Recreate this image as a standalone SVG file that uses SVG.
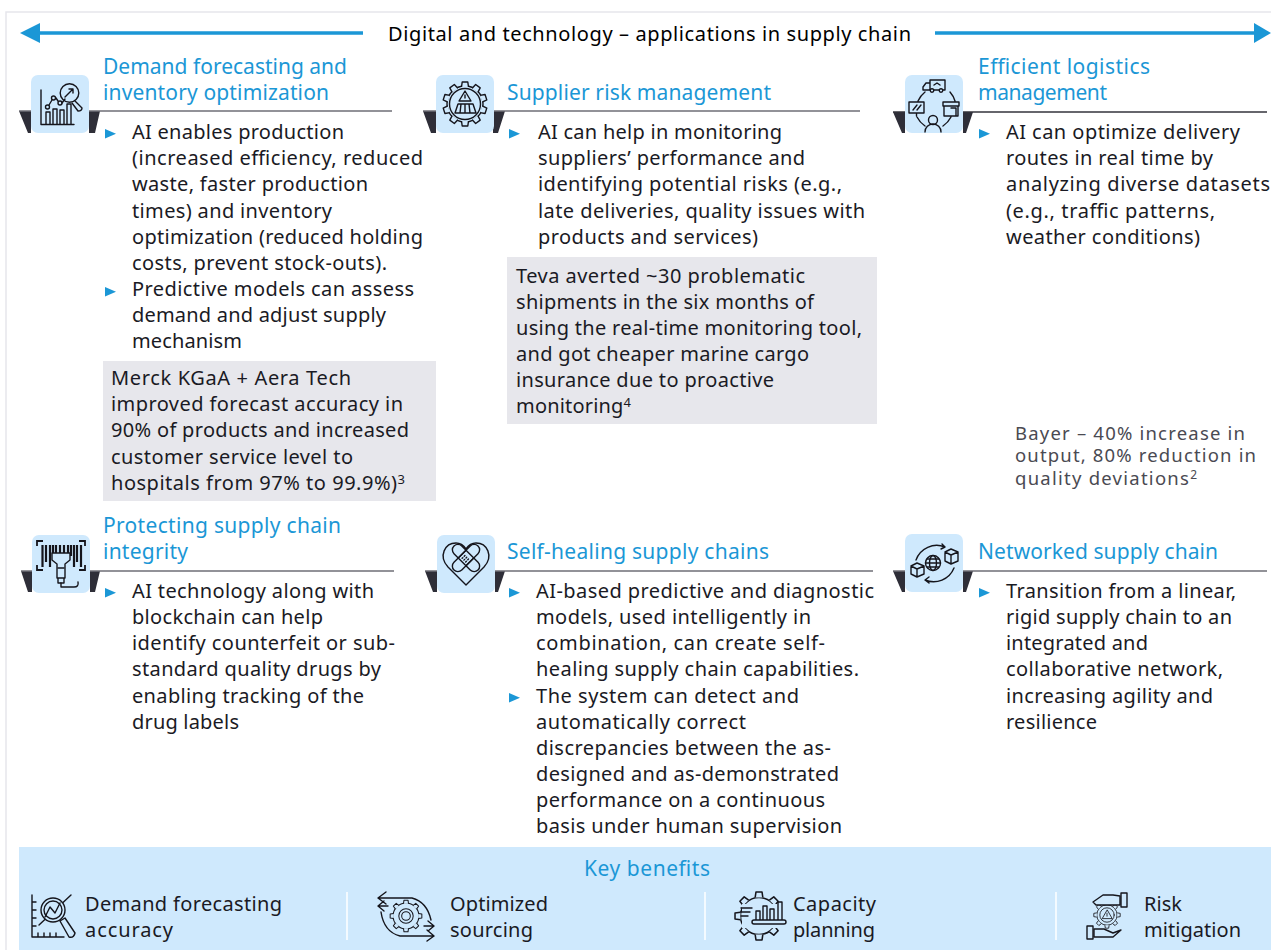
<svg xmlns="http://www.w3.org/2000/svg" width="1271" height="950" viewBox="0 0 1271 950">
<style>
text{font-family:"Noto Sans","Liberation Sans",sans-serif;font-size:20px;fill:#1a1a24}
.h{fill:#1b97d6;font-size:21px}
.s{fill:#4a4a52;font-size:18.5px}
.i{fill:none;stroke:#15151c;stroke-width:1.4;stroke-linecap:round;stroke-linejoin:round}
.f{fill:#cfe9fd;stroke:#15151c;stroke-width:1.4;stroke-linecap:round;stroke-linejoin:round}
.t{fill:#cfe9fd}
.d{fill:#2e2e38}
.l{stroke:#6e6e76;stroke-width:1.6}
.g{fill:#e7e7ec}
.b{fill:#1b97d6}
</style>
<defs>
<path id="bu" d="M0,0L11,4.800L0,9.600Z" class="b"/>
<path id="tooth" d="M-3.500,-17L-2.800,-22L2.800,-22L3.500,-17" fill="#cfe9fd" stroke="#15151c" stroke-width="1.4" stroke-linejoin="round"/>
<g id="gear8"><use href="#tooth"/><use href="#tooth" transform="rotate(45)"/><use href="#tooth" transform="rotate(90)"/><use href="#tooth" transform="rotate(135)"/><use href="#tooth" transform="rotate(180)"/><use href="#tooth" transform="rotate(225)"/><use href="#tooth" transform="rotate(270)"/><use href="#tooth" transform="rotate(315)"/></g>
</defs>
<rect width="1271" height="950" fill="#fff"/>
<path d="M1271,12H6V950" fill="none" stroke="#e6e6ec" stroke-width="1.5"/>
<g id="connectors">
<path d="M38,33H363M935,33H1256" stroke="#1b97d6" stroke-width="3.400" fill="none"/>
<path d="M20,33L40,23V43Z" class="b"/>
<path d="M1271,33L1254,23V43Z" class="b"/>
</g>
<text id="title" x="388" y="41" textLength="523" style="fill:#000">Digital and technology – applications in supply chain</text>

<g id="node-demand">
<path class="d" d="M19,111H31V133H28ZM100,111H89V133H95Z"/><path class="l" d="M19,111H392"/>
<rect class="t" x="31" y="75" width="58" height="58" rx="7"/>
<path class="i" d="M41,90V124.500H74M46,124.500V112H50V124.500M53,124.500V109H57V124.500M60,124.500V110H64V124.500M67,124.500V104H71V124.500M49,105L52,100M56,98L58,101M62,103L65,99"/>
<circle class="i" cx="47.500" cy="107" r="2"/><circle class="i" cx="53.500" cy="98" r="2"/><circle class="i" cx="60" cy="103" r="2"/>
<circle class="i" cx="69.500" cy="93" r="9.300"/><path class="i" d="M65,97L73,89M69,89H73V93M75,101L82,108Q82,111 78,111L72,103"/>
<text class="h" x="103" y="74" textLength="244">Demand forecasting and</text><text class="h" x="103" y="100" textLength="226">inventory optimization</text>
<use href="#bu" x="105" y="129"/><use href="#bu" x="105" y="287"/>
<text x="132" y="139" textLength="212">AI enables production</text>
<text x="132" y="165" textLength="291">(increased efficiency, reduced</text>
<text x="132" y="191" textLength="236">waste, faster production</text>
<text x="132" y="218" textLength="200">times) and inventory</text>
<text x="132" y="244" textLength="291">optimization (reduced holding</text>
<text x="132" y="270" textLength="255">costs, prevent stock-outs).</text>
<text x="132" y="296" textLength="282">Predictive models can assess</text>
<text x="132" y="322" textLength="254">demand and adjust supply</text>
<text x="132" y="348" textLength="110">mechanism</text>
<rect class="g" x="103" y="361" width="333" height="140"/>
<text x="111" y="385" textLength="240">Merck KGaA + Aera Tech</text>
<text x="111" y="411" textLength="292">improved forecast accuracy in</text>
<text x="111" y="437" textLength="298">90% of products and increased</text>
<text x="111" y="464" textLength="242">customer service level to</text>
<text x="111" y="490" textLength="294">hospitals from 97% to 99.9%)<tspan dy="-6" font-size="13">3</tspan></text>
</g>

<g id="node-supplier">
<path class="d" d="M423,111H436V133H431ZM505,111H493V133H498Z"/><path class="l" d="M423,111H860"/>
<rect class="t" x="436" y="75" width="58" height="58" rx="7"/>
<g transform="translate(465,104)"><circle class="i" r="18"/>
<use href="#tooth"/><use href="#tooth" transform="rotate(36)"/><use href="#tooth" transform="rotate(72)"/><use href="#tooth" transform="rotate(108)"/><use href="#tooth" transform="rotate(144)"/><use href="#tooth" transform="rotate(180)"/><use href="#tooth" transform="rotate(216)"/><use href="#tooth" transform="rotate(252)"/><use href="#tooth" transform="rotate(288)"/><use href="#tooth" transform="rotate(324)"/>
<circle class="i" r="15.500"/><path class="i" d="M0,-13L-6,-3H6ZM0,-9V-6M-10,9L-7,0H8L11,9ZM-4,0L-5,9M0,0V9M4,0L5,9"/></g>
<text class="h" x="507" y="100" textLength="264">Supplier risk management</text>
<use href="#bu" x="509" y="129"/>
<text x="538" y="139" textLength="244">AI can help in monitoring</text>
<text x="538" y="165" textLength="267">suppliers’ performance and</text>
<text x="538" y="191" textLength="304">identifying potential risks (e.g.,</text>
<text x="538" y="218" textLength="327">late deliveries, quality issues with</text>
<text x="538" y="244" textLength="220">products and services)</text>
<rect class="g" x="507" y="257" width="370" height="167"/>
<text x="516" y="283" textLength="289">Teva averted ~30 problematic</text>
<text x="516" y="309" textLength="298">shipments in the six months of</text>
<text x="516" y="335" textLength="346">using the real-time monitoring tool,</text>
<text x="516" y="361" textLength="293">and got cheaper marine cargo</text>
<text x="516" y="387" textLength="258">insurance due to proactive</text>
<text x="516" y="413" textLength="115">monitoring<tspan dy="-6" font-size="13">4</tspan></text>
</g>

<g id="node-logistics">
<path class="d" d="M893,112H905V133H902ZM973,112H963V133H966Z"/><path class="l" d="M893,112H1267" style="stroke:#33333b"/>
<rect class="t" x="905" y="75" width="58" height="58" rx="7"/>
<path class="i" d="M930,80H945V90H930ZM930,83H926L923,87V90H930M934,85L937,83L940,85M918,101A24,24 0 0 1 925,92M950,92A24,24 0 0 1 955,101M917,117A24,24 0 0 0 925,126M943,126A24,24 0 0 0 951,117M909,102H924V113H909ZM916.500,113V116M913,110L917,105M917,110L921,105M944,106H958V116H944ZM943,102H959V106H943ZM951,108H956V116H951M925,132A8,8 0 0 1 941,132"/>
<circle class="i" cx="933" cy="120" r="4.500"/><circle class="f" cx="932" cy="90.500" r="1.800"/><circle class="f" cx="941" cy="90.500" r="1.800"/>
<text class="h" x="978" y="74" textLength="172">Efficient logistics</text><text class="h" x="978" y="100" textLength="129">management</text>
<use href="#bu" x="979" y="129"/>
<text x="1006" y="139" textLength="234">AI can optimize delivery</text>
<text x="1006" y="165" textLength="207">routes in real time by</text>
<text x="1006" y="191" textLength="264">analyzing  diverse datasets</text>
<text x="1006" y="218" textLength="209">(e.g., traffic patterns,</text>
<text x="1006" y="244" textLength="194">weather conditions)</text>
<text class="s" x="1015" y="440" textLength="230">Bayer – 40% increase in</text>
<text class="s" x="1015" y="462" textLength="241">output, 80% reduction in</text>
<text class="s" x="1015" y="485" textLength="182">quality deviations<tspan dy="-6" font-size="12">2</tspan></text>
</g>

<g id="node-integrity">
<path class="d" d="M21,571H32V592H28ZM100,571H90V592H95Z"/><path class="l" d="M21,571H394"/>
<rect class="t" x="32" y="535" width="58" height="58" rx="7"/>
<path d="M37,546V541H43M79,541H85V546M37,565V570H43M79,570H85V565" fill="none" stroke="#15151c" stroke-width="1.800"/>
<path d="M42.500,545V567M46,545V562M50,545V567M53,545V556M56,545V553M60,545V553M64,545V553M68,545V553M71,545V556M74,545V567M77,545V562M81,545V567" stroke="#15151c" stroke-width="2.200" fill="none"/>
<path class="f" d="M52,560V553H70V560L65,564V578H57V564ZM58,578V583H64V578"/><path class="i" d="M61,583V587H74Q79,587 78,582M58,568H64"/>
<text class="h" x="103" y="533" textLength="238">Protecting supply chain</text><text class="h" x="103" y="559" textLength="85">integrity</text>
<use href="#bu" x="105" y="588"/>
<text x="132" y="598" textLength="242">AI technology along with</text>
<text x="132" y="624" textLength="191">blockchain can help</text>
<text x="132" y="650" textLength="263">identify counterfeit or sub-</text>
<text x="132" y="676" textLength="249">standard quality drugs by</text>
<text x="132" y="703" textLength="232">enabling tracking of the</text>
<text x="132" y="729" textLength="107">drug labels</text>
</g>

<g id="node-healing">
<path class="d" d="M425,571H437V592H433ZM505,571H495V592H498Z"/><path class="l" d="M425,571H873"/>
<rect class="t" x="437" y="535" width="58" height="58" rx="7"/>
<path class="i" d="M466,585L448,567C438,556 445,543 456,543C461,543 464,546 466,549C468,546 471,543 476,543C487,543 494,556 484,567Z"/>
<g transform="translate(466,558) rotate(45)"><rect class="f" x="-17" y="-5.500" width="34" height="11" rx="5.500"/></g>
<g transform="translate(466,558) rotate(-45)"><rect class="f" x="-17" y="-5.500" width="34" height="11" rx="5.500"/><rect class="i" x="-5.500" y="-5.500" width="11" height="11"/><path class="i" d="M-3,-2.500H3M-3,0H3M-3,2.500H3" stroke-dasharray="1 2"/></g>
<text class="h" x="507" y="559" textLength="262">Self-healing supply chains</text>
<use href="#bu" x="509" y="588"/><use href="#bu" x="509" y="693"/>
<text x="536" y="598" textLength="338">AI-based predictive and diagnostic</text>
<text x="536" y="624" textLength="275">models, used intelligently in</text>
<text x="536" y="650" textLength="289">combination, can create self-</text>
<text x="536" y="676" textLength="323">healing supply chain capabilities.</text>
<text x="536" y="703" textLength="263">The system can detect and</text>
<text x="536" y="729" textLength="210">automatically correct</text>
<text x="536" y="755" textLength="295">discrepancies between the as-</text>
<text x="536" y="781" textLength="303">designed and as-demonstrated</text>
<text x="536" y="807" textLength="289">performance on a continuous</text>
<text x="536" y="833" textLength="306">basis under human supervision</text>
</g>

<g id="node-network">
<path class="d" d="M893,571H905V592H902ZM973,571H963V592H966Z"/><path class="l" d="M893,571H1267"/>
<rect class="t" x="905" y="534" width="58" height="58" rx="7"/>
<circle class="i" cx="933" cy="563" r="7.500"/><ellipse class="i" cx="933" cy="563" rx="3.500" ry="7.500"/><path class="i" d="M925.500,563H940.500M927,559H939M927,567H939"/>
<path class="i" d="M916,560A22,22 0 0 1 945,547M942,544L945,547L941,549M954,568A22,22 0 0 1 925,580M929,577L925,580L929,583"/>
<path class="f" d="M945,552L951,549L958,552V561L951,564L945,561ZM945,552L951,555L958,552M951,555V564M911,566L917,563L924,566V574L917,577L911,574ZM911,566L917,569L924,566M917,569V577"/>
<text class="h" x="978" y="559" textLength="240">Networked supply chain</text>
<use href="#bu" x="979" y="588"/>
<text x="1006" y="598" textLength="230">Transition from a linear,</text>
<text x="1006" y="624" textLength="226">rigid supply chain to an</text>
<text x="1006" y="650" textLength="142">integrated and</text>
<text x="1006" y="676" textLength="217">collaborative network,</text>
<text x="1006" y="703" textLength="207">increasing agility and</text>
<text x="1006" y="729" textLength="91">resilience</text>
</g>

<g id="node-benefits">
<rect x="19" y="847" width="1252" height="103" fill="#cfe9fd"/>
<text class="h" x="584" y="876" textLength="126">Key benefits</text>
<path d="M347,892V940M705,892V940M1056,892V940" stroke="#fff" stroke-width="1.500"/>
<path class="i" d="M32,895V937H64M32,902H36M32,910H36M32,918H36M32,926H36M38,937V933M44,937V933M50,937V933M56,937V933M39,925L71,895"/>
<circle class="f" cx="53" cy="910" r="12"/><circle class="i" cx="53" cy="910" r="9"/><path class="i" d="M45,917L50,907L55,913L60,903"/><path class="f" d="M60,921L65,918L75,933Q74,938 69,937Z"/>
<g transform="translate(406,916) scale(.72)"><circle class="i" r="18"/><use href="#gear8"/><circle class="i" r="10"/><circle class="i" r="6"/></g>
<path class="i" d="M378,898H412Q427,902 431,920M378,898L386,892M378,898L386,904M378,906L384,901M378,906L384,911M378,906H388M434,936H400Q384,932 381,912M434,936L427,930M434,936L427,941M434,926L428,921M434,926L428,931M424,926H434"/>
<g transform="translate(759,916) scale(1.090)"><circle class="i" r="17"/><use href="#gear8"/></g>
<path class="t" d="M742,904H785V928H742Z"/>
<path class="i" d="M741,908H752M741,912H750M741,916H748M756,920V911H760V920M763,920V906H767V920M770,920V909H774V920M778,920V902H782V920"/><rect class="f" x="752" y="920" width="34" height="4" rx="2"/>
<g transform="translate(1107,915) scale(.6)"><circle class="i" r="17"/><use href="#gear8"/><circle class="i" r="12"/><path class="i" d="M0,-8L-8,6H8ZM0,-3V2"/></g>
<path class="f" d="M1093,902L1103,895H1113L1120,896V905H1108L1096,905Z"/><rect class="f" x="1121" y="893" width="6" height="14"/><rect class="f" x="1087" y="926" width="6" height="13"/>
<path class="f" d="M1094,929H1104L1113,933L1121,930L1113,937H1094Z"/>
<text x="85" y="911" textLength="197">Demand forecasting</text><text x="85" y="937" textLength="88">accuracy</text>
<text x="450" y="911" textLength="98">Optimized</text><text x="450" y="937" textLength="83">sourcing</text>
<text x="793" y="911" textLength="83">Capacity</text><text x="793" y="937" textLength="82">planning</text>
<text x="1144" y="911" textLength="38">Risk</text><text x="1144" y="937" textLength="97">mitigation</text>
</g>
</svg>
